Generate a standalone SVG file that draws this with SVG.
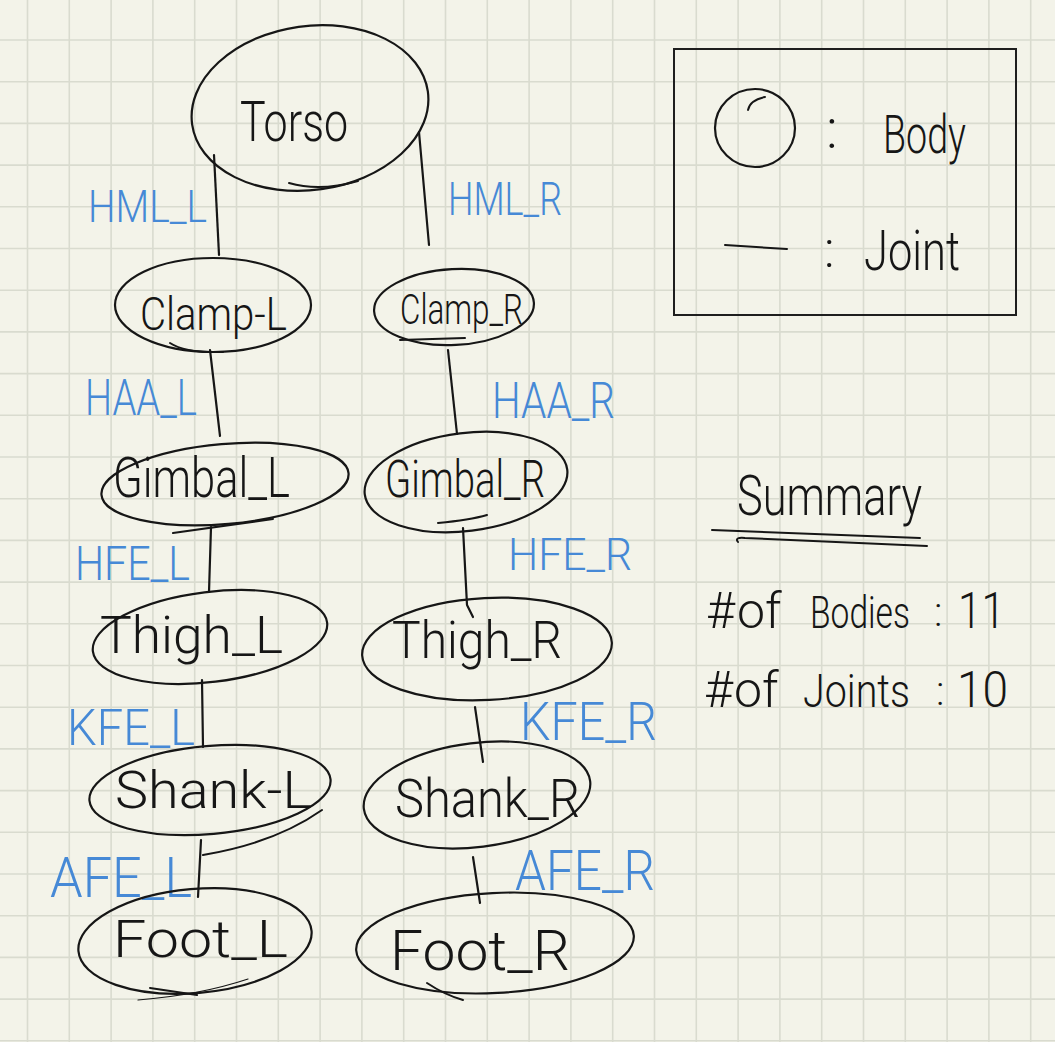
<svg xmlns="http://www.w3.org/2000/svg" width="1055" height="1042" viewBox="0 0 1055 1042">
<style>
.bg{fill:#f3f3e9}
.grid{stroke:#d9dbcf;stroke-width:1.6;fill:none}
.node{fill:none;stroke:#161616;stroke-width:2.2}
.ink{fill:none;stroke:#161616;stroke-width:2;stroke-linecap:round}
.thin{fill:none;stroke:#161616;stroke-width:1.2;stroke-linecap:round}
.edge{fill:none;stroke:#161616;stroke-width:2.2;stroke-linecap:round}
.t{font-family:Roboto,"Liberation Sans",sans-serif;font-weight:300;fill:#161616}
.b{font-family:Roboto,"Liberation Sans",sans-serif;font-weight:300;fill:#4689d6}
</style>
<rect class="bg" x="0" y="0" width="1055" height="1042"/>
<path class="grid" d="M27.5 0V1042M69.3 0V1042M111.1 0V1042M152.9 0V1042M194.7 0V1042M236.5 0V1042M278.3 0V1042M320.1 0V1042M361.9 0V1042M403.7 0V1042M445.5 0V1042M487.3 0V1042M529.1 0V1042M570.9 0V1042M612.7 0V1042M654.5 0V1042M696.3 0V1042M738.1 0V1042M779.9 0V1042M821.7 0V1042M863.5 0V1042M905.3 0V1042M947.1 0V1042M988.9 0V1042M1030.7 0V1042M0 40H1055M0 81.7H1055M0 123.4H1055M0 165.1H1055M0 206.8H1055M0 248.5H1055M0 290.2H1055M0 331.9H1055M0 373.6H1055M0 415.3H1055M0 457H1055M0 498.7H1055M0 540.4H1055M0 582.1H1055M0 623.8H1055M0 665.5H1055M0 707.2H1055M0 748.9H1055M0 790.6H1055M0 832.3H1055M0 874H1055M0 915.7H1055M0 957.4H1055M0 999.1H1055M0 1040.8H1055"/>

<g id="connectors">
  <path class="edge" d="M214 155L219 255"/>
  <path class="edge" d="M419 132L429 245"/>
  <path class="edge" d="M210 350L220 436"/>
  <path class="edge" d="M448 350L457 434"/>
  <path class="edge" d="M211 527L209 592"/>
  <path class="edge" d="M463 528L467 605L473 617"/>
  <path class="edge" d="M202 680L203 747"/>
  <path class="edge" d="M475 707L483 762"/>
  <path class="edge" d="M201 840L198 897"/>
  <path class="edge" d="M473 857L480 903"/>
  <text class="b" x="88" y="222" font-size="44" textLength="119" lengthAdjust="spacingAndGlyphs">HML_L</text>
  <text class="b" x="448" y="215" font-size="46" textLength="114" lengthAdjust="spacingAndGlyphs">HML_R</text>
  <text class="b" x="85" y="415" font-size="50" textLength="112" lengthAdjust="spacingAndGlyphs">HAA_L</text>
  <text class="b" x="492" y="418" font-size="50" textLength="123" lengthAdjust="spacingAndGlyphs">HAA_R</text>
  <text class="b" x="75" y="580" font-size="48" textLength="115" lengthAdjust="spacingAndGlyphs">HFE_L</text>
  <text class="b" x="508" y="570" font-size="44" textLength="124" lengthAdjust="spacingAndGlyphs">HFE_R</text>
  <text class="b" x="67" y="745" font-size="50" textLength="128" lengthAdjust="spacingAndGlyphs">KFE_L</text>
  <text class="b" x="520" y="740" font-size="54" textLength="137" lengthAdjust="spacingAndGlyphs">KFE_R</text>
  <text class="b" x="50" y="897" font-size="56" textLength="142" lengthAdjust="spacingAndGlyphs">AFE_L</text>
  <text class="b" x="515" y="890" font-size="56" textLength="140" lengthAdjust="spacingAndGlyphs">AFE_R</text>
</g>

<g id="torso">
  <ellipse class="node" cx="310" cy="108" rx="119" ry="82" transform="rotate(-8 310 108)"/>
  <path class="ink" d="M289 183Q320 192 358 181"/>
  <text class="t" x="240" y="141" font-size="56" textLength="108" lengthAdjust="spacingAndGlyphs">Torso</text>
</g>
<g id="clamp_l">
  <ellipse class="node" cx="213" cy="305" rx="98" ry="47"/>
  <path class="ink" d="M170 343Q185 353 223 352"/>
  <text class="t" x="140" y="330" font-size="46" textLength="147" lengthAdjust="spacingAndGlyphs">Clamp-L</text>
</g>
<g id="clamp_r">
  <ellipse class="node" cx="454" cy="307" rx="80" ry="38" transform="rotate(-3 454 307)"/>
  <path class="ink" d="M400 340L465 338"/>
  <text class="t" x="400" y="324" font-size="42" textLength="123" lengthAdjust="spacingAndGlyphs">Clamp_R</text>
</g>
<g id="gimbal_l">
  <ellipse class="node" cx="225" cy="484" rx="124" ry="40" transform="rotate(-5 225 484)"/>
  <path class="ink" d="M173 533L273 519"/>
  <text class="t" x="113" y="497" font-size="56" textLength="177" lengthAdjust="spacingAndGlyphs">Gimbal_L</text>
</g>
<g id="gimbal_r">
  <ellipse class="node" cx="466" cy="482" rx="102" ry="49" transform="rotate(-7 466 482)"/>
  <path class="ink" d="M438 523Q470 520 487 515"/>
  <text class="t" x="385" y="497" font-size="52" textLength="160" lengthAdjust="spacingAndGlyphs">Gimbal_R</text>
</g>
<g id="thigh_l">
  <ellipse class="node" cx="210" cy="637" rx="118" ry="45" transform="rotate(-7 210 637)"/>
  <text class="t" x="100" y="653" font-size="52" textLength="183" lengthAdjust="spacingAndGlyphs">Thigh_L</text>
</g>
<g id="thigh_r">
  <ellipse class="node" cx="487" cy="649" rx="125" ry="51" transform="rotate(-3 487 649)"/>
  <text class="t" x="392" y="658" font-size="52" textLength="170" lengthAdjust="spacingAndGlyphs">Thigh_R</text>
</g>
<g id="shank_l">
  <ellipse class="node" cx="210" cy="790" rx="121" ry="44" transform="rotate(-5 210 790)"/>
  <path class="ink" d="M322 810Q275 843 203 855"/>
  <text class="t" x="115" y="808" font-size="52" textLength="197" lengthAdjust="spacingAndGlyphs">Shank-L</text>
</g>
<g id="shank_r">
  <ellipse class="node" cx="477" cy="795" rx="114" ry="52" transform="rotate(-7 477 795)"/>
  <text class="t" x="395" y="817" font-size="54" textLength="185" lengthAdjust="spacingAndGlyphs">Shank_R</text>
</g>
<g id="foot_l">
  <ellipse class="node" cx="195" cy="941" rx="117" ry="52" transform="rotate(-5 195 941)"/>
  <path class="thin" d="M138 1000Q200 995 248 979"/>
  <path class="ink" d="M150 988L197 995"/>
  <text class="t" x="113" y="957" font-size="52" textLength="175" lengthAdjust="spacingAndGlyphs">Foot_L</text>
</g>
<g id="foot_r">
  <ellipse class="node" cx="495" cy="943" rx="139" ry="50" transform="rotate(-3 495 943)"/>
  <path class="ink" d="M427 983Q445 995 463 1000"/>
  <text class="t" x="390" y="970" font-size="56" textLength="180" lengthAdjust="spacingAndGlyphs">Foot_R</text>
</g>

<g id="legend">
  <rect x="674" y="49" width="342" height="266" fill="none" stroke="#1e1e1e" stroke-width="2"/>
  <ellipse class="node" cx="755" cy="128" rx="40" ry="39"/>
  <path class="ink" d="M748 110Q750 100 765 97"/>
  <text class="t" x="826" y="148" font-size="56">:</text>
  <text class="t" x="883" y="153" font-size="54" textLength="83" lengthAdjust="spacingAndGlyphs">Body</text>
  <path class="ink" d="M725 245L787 249"/>
  <text class="t" x="824" y="267" font-size="50">:</text>
  <text class="t" x="864" y="270" font-size="56" textLength="96" lengthAdjust="spacingAndGlyphs">Joint</text>
</g>

<g id="summary">
  <text class="t" x="737" y="515" font-size="56" textLength="185" lengthAdjust="spacingAndGlyphs">Summary</text>
  <path class="ink" d="M712 530L920 538"/>
  <path class="ink" d="M738 542Q734 537 745 538L927 546"/>
  <g id="bodies_count">
    <text class="t" x="706" y="628" font-size="50">#</text>
    <text class="t" x="737" y="628" font-size="50">of</text>
    <text class="t" x="810" y="628" font-size="44" textLength="100" lengthAdjust="spacingAndGlyphs">Bodies</text>
    <text class="t" x="934" y="626" font-size="40">:</text>
    <text class="t" x="958" y="628" font-size="50" textLength="47" lengthAdjust="spacingAndGlyphs">11</text>
  </g>
  <g id="joints_count">
    <text class="t" x="704" y="707" font-size="50">#</text>
    <text class="t" x="734" y="707" font-size="50">of</text>
    <text class="t" x="803" y="707" font-size="46" textLength="107" lengthAdjust="spacingAndGlyphs">Joints</text>
    <text class="t" x="936" y="705" font-size="40">:</text>
    <text class="t" x="957" y="707" font-size="50" textLength="51" lengthAdjust="spacingAndGlyphs">10</text>
  </g>
</g>
</svg>
